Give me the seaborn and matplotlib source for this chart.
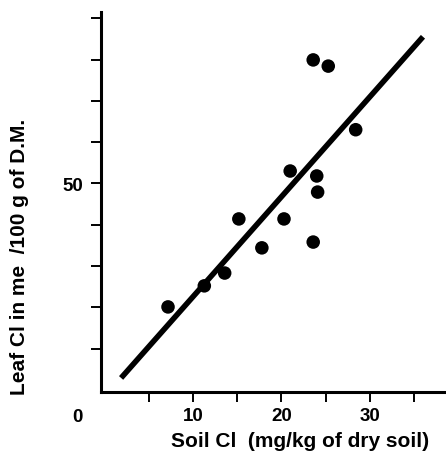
import matplotlib
matplotlib.use("Agg")
import matplotlib.pyplot as plt
import seaborn as sns
import pandas as pd

# Soil chloride vs. leaf chloride measurements
soil_cl = [7.2, 11.3, 13.6, 15.2, 17.8, 20.3, 21.0, 23.6, 24.0, 24.1, 23.6, 25.3, 28.4]
leaf_cl = [20.1, 25.2, 28.3, 41.4, 34.4, 41.4, 53.0, 35.8, 51.8, 47.9, 79.9, 78.4, 63.0]

# Fitted relationship, drawn between its two end points
trend_x = [1.9, 36.0]
trend_y = [2.9, 85.5]

x_ticks = [5, 10, 15, 20, 25, 30, 35]
x_tick_labels = ["", "10", "", "20", "", "30", ""]
y_ticks = [10, 20, 30, 40, 50, 60, 70, 80, 90]
y_tick_labels = ["", "", "", "", "50", "", "", "", ""]

points = pd.DataFrame({"soil": soil_cl, "leaf": leaf_cl})
trend = pd.DataFrame({"soil": trend_x, "leaf": trend_y})

sns.set_style("ticks")
plt.rcParams["font.family"] = ["Liberation Sans", "DejaVu Sans"]
plt.rcParams["font.weight"] = "bold"
plt.rcParams["text.color"] = "black"
plt.rcParams["axes.labelcolor"] = "black"
plt.rcParams["xtick.color"] = "black"
plt.rcParams["ytick.color"] = "black"
plt.rcParams["xtick.labelcolor"] = "black"
plt.rcParams["ytick.labelcolor"] = "black"

W, H = 446, 456
fig = plt.figure(figsize=(W / 100, H / 100), dpi=100)
ax = fig.add_axes([101 / W, 1 - 393 / H, (W - 101) / W, (393 - 13) / H])

sns.lineplot(data=trend, x="soil", y="leaf", ax=ax, color="black",
             linewidth=4.0, solid_capstyle="butt", zorder=2)
sns.scatterplot(data=points, x="soil", y="leaf", ax=ax, color="black",
                s=95, edgecolor="none", zorder=3)

ax.set_xlim(-0.37, 38.6)
ax.set_ylim(-0.5, 91.5)
sns.despine(ax=ax)
for side in ("left", "bottom"):
    ax.spines[side].set_linewidth(2.2)
    ax.spines[side].set_color("black")

tick_fs = 13.5
label_fs = 15

ax.set_xticks(x_ticks)
ax.set_xticklabels(x_tick_labels, fontsize=tick_fs, fontweight="bold", color="black")
ax.set_yticks(y_ticks)
ax.set_yticklabels(y_tick_labels, fontsize=tick_fs, fontweight="bold", color="black")
ax.tick_params(axis="both", direction="out", length=7, width=1.4,
               color="black", labelcolor="black")
ax.tick_params(axis="x", pad=4)
ax.tick_params(axis="y", pad=6)

ax.set_xlabel("Soil Cl  (mg/kg of dry soil)", fontsize=label_fs,
              fontweight="bold", color="black")
ax.xaxis.set_label_coords(0.577, -0.103)
ax.set_ylabel("Leaf Cl in me  /100 g of D.M.", fontsize=label_fs,
              fontweight="bold", color="black")
ax.yaxis.set_label_coords(-0.21, 0.358)

# Shared origin label at the lower-left corner
ax.annotate("0", xy=(0, 0), xycoords="axes fraction", xytext=(-17.3, -17.3),
            textcoords="offset points", ha="center", va="center",
            fontsize=tick_fs, fontweight="bold", color="black")

fig.savefig("out.png", dpi=100)
